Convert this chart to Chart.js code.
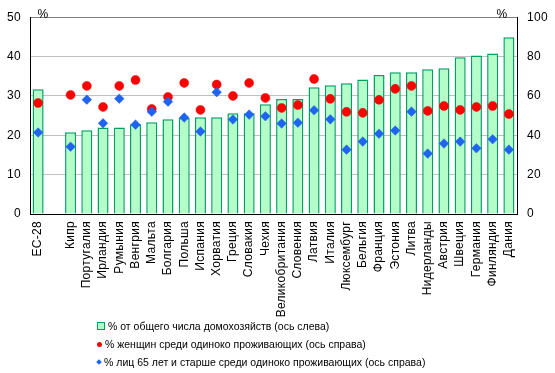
<!DOCTYPE html>
<html>
<head>
<meta charset="utf-8">
<script src="https://cdn.jsdelivr.net/npm/chart.js@4/dist/chart.umd.min.js"></script>
<style>
  body { margin: 0; background: #fff; font-family: "Liberation Sans", Arial, sans-serif; }
  #wrap { position: relative; width: 555px; height: 373px; }
  #legend { position: absolute; left: 97px; top: 318px; font-size: 10.5px; color: #000; }
  #legend div { height: 17.8px; line-height: 17px; white-space: nowrap; }
  #legend i { display: inline-block; vertical-align: middle; margin-right: 3px; position: relative; top: -1px; }
</style>
</head>
<body>
<div id="wrap">
  <canvas id="chart" width="555" height="373"></canvas>
  <div id="legend"></div>
</div>
<script>
const countries = ['ЕС-28', '', 'Кипр', 'Португалия', 'Ирландия', 'Румыния', 'Венгрия', 'Мальта', 'Болгария', 'Польша',
    'Испания', 'Хорватия', 'Греция', 'Словакия', 'Чехия', 'Великобритания', 'Словения', 'Латвия', 'Италия',
    'Люксембург', 'Бельгия', 'Франция', 'Эстония', 'Литва', 'Нидерланды', 'Австрия', 'Швеция', 'Германия',
    'Финляндия', 'Дания'];
const householdShare = [31.7, null, 20.8, 21.3, 22.0, 22.0, 22.8, 23.3, 24.1, 24.4, 24.6, 24.6, 25.6, 25.6, 27.9,
    29.2, 29.2, 32.2, 32.7, 33.2, 34.2, 35.3, 36.0, 36.0, 36.8, 37.0, 39.8, 40.3, 40.8, 44.9];
const womenShare = [56.4, null, 60.5, 65.1, 54.4, 65.1, 68.1, 53.4, 59.5, 66.6, 52.9, 65.8, 60.0, 66.6, 59.0,
    53.9, 55.4, 68.6, 58.5, 51.9, 51.4, 58.0, 63.6, 65.1, 52.4, 54.9, 52.9, 54.4, 54.9, 50.8];
const elderlyShare = [41.4, null, 34.2, 58.1, 46.1, 58.6, 45.4, 52.0, 57.1, 49.0, 41.9, 61.9, 48.0, 50.5, 49.7,
    46.0, 46.4, 52.7, 48.1, 32.7, 36.8, 40.8, 42.4, 52.0, 30.7, 35.8, 36.8, 33.4, 38.0, 32.7];
const leftTicks = [0, 10, 20, 30, 40, 50];
const rightTicks = [0, 20, 40, 60, 80, 100];
const seriesNames = [
    '% от общего  числа домохозяйств (ось слева)',
    '% женщин среди одиноко проживающих (ось справа)',
    '% лиц 65 лет и старше среди одиноко проживающих (ось справа)'
];

const FONT = { family: '"Liberation Sans", Arial, sans-serif', size: 12 };

// slightly spaced text like the original, plus the two "%" marks above the axes
const percentMarks = {
    id: 'percentMarks',
    beforeDraw(chart) {
        chart.ctx.letterSpacing = '0.3px';
    },
    afterDraw(chart) {
        const c = chart.ctx, a = chart.chartArea;
        c.save();
        c.font = '12px "Liberation Sans", Arial, sans-serif';
        c.fillStyle = '#000';
        c.textBaseline = 'bottom';
        c.textAlign = 'center';
        c.fillText('%', a.left + 13, a.top + 3);
        c.fillText('%', a.right - 15, a.top + 3);
        c.restore();
    }
};

const chart = new Chart(document.getElementById('chart'), {
    data: {
        labels: countries,
        datasets: [
            { type: 'line', label: seriesNames[1], data: womenShare, yAxisID: 'y1', showLine: false,
              pointStyle: 'circle', pointRadius: 4.5, pointBackgroundColor: '#ff0000', pointBorderColor: '#e00000',
              pointBorderWidth: 0.5, order: 1 },
            { type: 'line', label: seriesNames[2], data: elderlyShare, yAxisID: 'y1', showLine: false,
              pointStyle: 'rectRot', pointRadius: 4.8, pointBackgroundColor: '#1e64f0', pointBorderColor: '#1e64f0',
              pointBorderWidth: 0.5, order: 0 },
            { type: 'bar', label: seriesNames[0], data: householdShare, yAxisID: 'y',
              backgroundColor: '#b4fcc8', borderColor: '#00a064', borderWidth: 1.5,
              barPercentage: 0.68, categoryPercentage: 1, order: 2 }
        ]
    },
    options: {
        responsive: false,
        animation: false,
        layout: { padding: { top: 17, left: 0, right: 0, bottom: 0 } },
        plugins: { legend: { display: false }, tooltip: { enabled: false } },
        scales: {
            x: {
                grid: { display: false, drawTicks: false },
                border: { color: '#000', width: 1 },
                ticks: { color: '#000', font: FONT, maxRotation: 90, minRotation: 90, autoSkip: false, padding: 7 },
                afterFit(s) { s.height = 159; }
            },
            y: {
                position: 'left', min: 0, max: 50,
                afterBuildTicks(s) { s.ticks = leftTicks.map(v => ({ value: v })); },
                grid: { drawTicks: false, color: ctx => ctx.tick.value === 50 ? '#808080' : (ctx.tick.value === 0 ? '#000' : '#c0c0c0') },
                border: { color: '#000', width: 1 },
                ticks: { color: '#000', font: FONT, padding: 9 },
                afterFit(s) { s.width = 30; }
            },
            y1: {
                position: 'right', min: 0, max: 100,
                afterBuildTicks(s) { s.ticks = rightTicks.map(v => ({ value: v })); },
                grid: { drawOnChartArea: false, drawTicks: false },
                border: { color: '#000', width: 1 },
                ticks: { color: '#000', font: FONT, padding: 10 },
                afterFit(s) { s.width = 38; }
            }
        }
    },
    plugins: [percentMarks]
});

// legend built from the dataset names
const markers = [
    '<i style="width:6px;height:6px;background:#b4fcc8;border:1px solid #00a064"></i>',
    '<i style="width:5px;height:5px;border-radius:50%;background:#ff0000"></i>',
    '<i style="width:4px;height:4px;background:#1e64f0;transform:rotate(45deg)"></i>'
];
document.getElementById('legend').innerHTML =
    seriesNames.map((n, i) => `<div>${markers[i]}${n}</div>`).join('');
</script>
</body>
</html>
